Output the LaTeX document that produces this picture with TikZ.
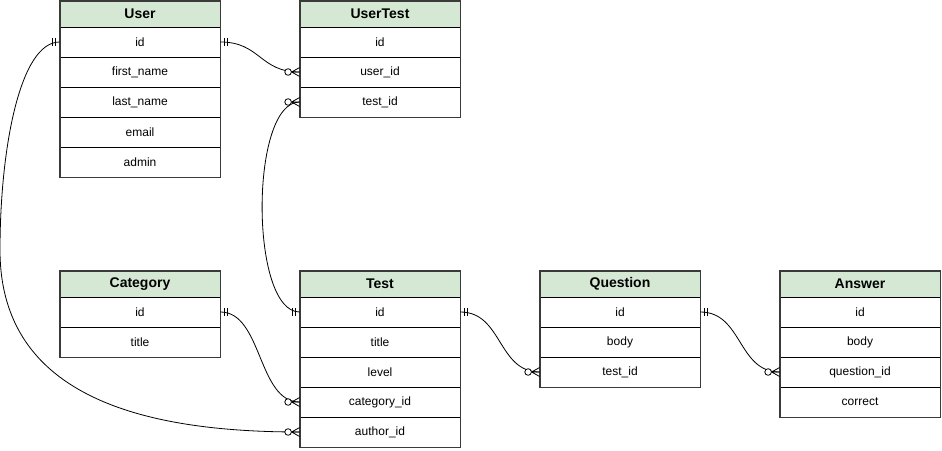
\documentclass[tikz,border=0pt]{standalone}
\usepackage{fontspec}
\setmainfont{Liberation Sans}
\definecolor{hdrgreen}{HTML}{D5E8D4}
\definecolor{bordergray}{HTML}{3A3A3A}
\tikzset{
  hdr/.style={draw=black, line width=0.8pt, fill=hdrgreen, minimum width=160pt, minimum height=26pt, inner sep=0pt, font=\fontsize{14}{16}\selectfont\bfseries},
  fld/.style={draw=black, line width=0.8pt, fill=white, minimum width=160pt, minimum height=30pt, inner sep=0pt, font=\fontsize{12}{14}\selectfont},
  tblborder/.style={draw=bordergray, line width=1.8pt},
  conn/.style={draw=black, line width=0.8pt},
}
\newcommand\mandR[1]{\draw[conn] (#1) ++(4,-4) -- ++(0,8) (#1) ++(7,-4) -- ++(0,8);}
\newcommand\mandL[1]{\draw[conn] (#1) ++(-4,-4) -- ++(0,8) (#1) ++(-7,-4) -- ++(0,8);}
\newcommand\manyL[1]{\draw[conn] (#1) ++(-8,0) -- ++(8,-4.5) (#1) ++(-8,0) -- ++(8,4.5) (#1) ++(-8,0) -- (#1);
  \draw[conn, fill=white] (#1) ++(-11.5,0) circle[radius=3.3pt];}
\begin{document}
\begin{tikzpicture}[x=1pt, y=-1pt]
\useasboundingbox (0,0) rectangle (942,450);
% User
\node[hdr] (u-h) at (140,14) {User};
\node[fld] (u-id) at (140,42) {id};
\node[fld] (u-fn) at (140,72) {first\_name};
\node[fld] (u-ln) at (140,102) {last\_name};
\node[fld] (u-em) at (140,132) {email};
\node[fld] (u-ad) at (140,162) {admin};
\draw[tblborder] (u-h.north west) rectangle (u-ad.south east);
% UserTest
\node[hdr] (ut-h) at (380,14) {UserTest};
\node[fld] (ut-id) at (380,42) {id};
\node[fld] (ut-userid) at (380,72) {user\_id};
\node[fld] (ut-testid) at (380,102) {test\_id};
\draw[tblborder] (ut-h.north west) rectangle (ut-testid.south east);
% Category
\node[hdr] (c-h) at (140,284) {Category};
\node[fld] (c-id) at (140,312) {id};
\node[fld] (c-title) at (140,342) {title};
\draw[tblborder] (c-h.north west) rectangle (c-title.south east);
% Test
\node[hdr] (t-h) at (380,284) {Test};
\node[fld] (t-id) at (380,312) {id};
\node[fld] (t-title) at (380,342) {title};
\node[fld] (t-level) at (380,372) {level};
\node[fld] (t-cat) at (380,402) {category\_id};
\node[fld] (t-author) at (380,432) {author\_id};
\draw[tblborder] (t-h.north west) rectangle (t-author.south east);
% Question
\node[hdr] (q-h) at (620,284) {Question};
\node[fld] (q-id) at (620,312) {id};
\node[fld] (q-body) at (620,342) {body};
\node[fld] (q-testid) at (620,372) {test\_id};
\draw[tblborder] (q-h.north west) rectangle (q-testid.south east);
% Answer
\node[hdr] (a-h) at (860,284) {Answer};
\node[fld] (a-id) at (860,312) {id};
\node[fld] (a-body) at (860,342) {body};
\node[fld] (a-qid) at (860,372) {question\_id};
\node[fld] (a-correct) at (860,402) {correct};
\draw[tblborder] (a-h.north west) rectangle (a-correct.south east);
% connectors
\coordinate (bend) at (0,250);
\draw[conn] (u-id.east) .. controls +(40,0) and +(-40,0) .. (ut-userid.west);
\draw[conn] (ut-testid.west) .. controls +(-50,0) and +(-50,0) .. (t-id.west);
\draw[conn] (u-id.west) .. controls +(-40,0) and (0,150) .. (bend) .. controls (0,400) and +(-150,0) .. (t-author.west);
\draw[conn] (c-id.east) .. controls +(42,0) and +(-42,0) .. (t-cat.west);
\draw[conn] (t-id.east) .. controls +(42,0) and +(-42,0) .. (q-testid.west);
\draw[conn] (q-id.east) .. controls +(42,0) and +(-42,0) .. (a-qid.west);
% markers
\mandR{u-id.east}
\manyL{ut-userid.west}
\manyL{ut-testid.west}
\mandL{t-id.west}
\mandL{u-id.west}
\manyL{t-author.west}
\mandR{c-id.east}
\manyL{t-cat.west}
\mandR{t-id.east}
\manyL{q-testid.west}
\mandR{q-id.east}
\manyL{a-qid.west}
\end{tikzpicture}
\end{document}
